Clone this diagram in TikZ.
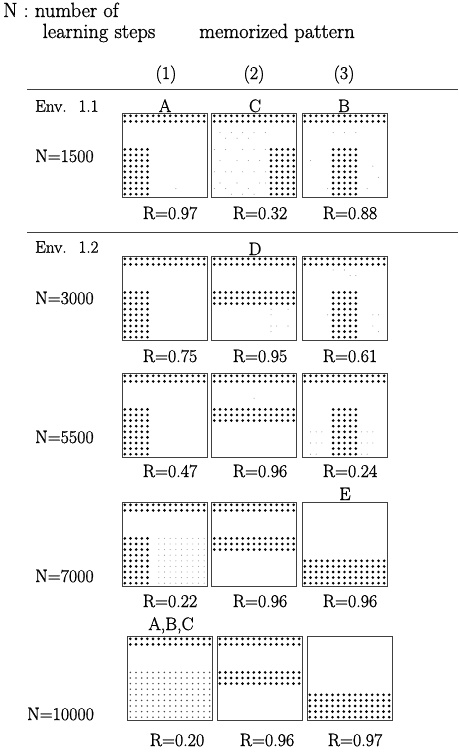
\documentclass[tikz,border=0pt]{standalone}
\usepackage{fontspec}
\setmainfont{Latin Modern Roman}[FakeBold=1.2]
\begin{document}
% dot grids: 15 x 15 cells inside each pattern box
\newcommand\dotrect[6]{%
  \begin{scope}[shift={(#1.north west)}]
    \foreach \r in {#2,...,#3}{\foreach \c in {#4,...,#5}{%
      \fill[#6] ({(\c-0.5)*5.667},{(\r-0.5)*5.6}) circle;}}
  \end{scope}}
\newcommand\specks[2]{%
  \begin{scope}[shift={(#1.north west)}]
    \foreach \c/\r in {#2}{\fill[faint] ({(\c-0.5)*5.667},{(\r-0.5)*5.6}) circle;}
  \end{scope}}
\newcommand\toprows[1]{\dotrect{#1}{1}{2}{1}{15}{big}}
\newcommand\patA[1]{\toprows{#1}\dotrect{#1}{7}{15}{1}{5}{big}}
\newcommand\patB[1]{\toprows{#1}\dotrect{#1}{7}{15}{6}{10}{big}}
\newcommand\patC[1]{\toprows{#1}\dotrect{#1}{7}{15}{11}{15}{big}}
\newcommand\patD[1]{\toprows{#1}\dotrect{#1}{7}{9}{1}{15}{big}}
\newcommand\patE[1]{\dotrect{#1}{11}{15}{1}{15}{big}}
\begin{tikzpicture}[x=1pt,y=-1pt,
  pbox/.style={draw=black!75, line width=1pt, minimum width=85pt,
    minimum height=84pt, inner sep=0pt, outer sep=0pt},
  txt/.style={inner sep=0pt, font=\fontsize{18}{20}\selectfont},
  hd/.style={inner sep=0pt, anchor=base, font=\fontsize{20.5}{23}\selectfont},
  envlbl/.style={inner sep=0pt, anchor=west, font=\fontsize{17}{19}\selectfont},
  rule/.style={draw=black!75, line width=1pt},
  big/.style={fill=black, radius=1.45pt},
  mid/.style={fill=black!70, radius=0.85pt},
  faint/.style={fill=black!40, radius=0.55pt},
]
\useasboundingbox (0,0) rectangle (458,752);

% header
\node[hd, anchor=base west] (nhead) at (3,17) {N : number of};
\node[hd] (steps) at (99,38) {learning steps};
\node[hd] (mem) at (277,38) {memorized pattern};
\node[txt, anchor=base] (c1) at (166,79) {(1)};
\node[txt, anchor=base] (c2) at (254,79) {(2)};
\node[txt, anchor=base] (c3) at (344,79) {(3)};
\coordinate (r1a) at (27,89);  \coordinate (r1b) at (458,89);
\draw[rule] (r1a) -- (r1b);

% Env. 1.1
\node[envlbl] (env11) at (35,106) {Env.\hspace{12pt}1.1};
\node[txt, anchor=base] (lA) at (165,112) {A};
\node[txt, anchor=base] (lC) at (255,112) {C};
\node[txt, anchor=base] (lB) at (344,112) {B};
\node[txt, anchor=west] (n1500) at (35,156) {N=1500};
\node[pbox] (p11) at (164.5,155) {};
\node[pbox] (p12) at (254,155) {};
\node[pbox] (p13) at (344.5,155) {};
\patA{p11} \patC{p12} \patB{p13}
\specks{p11}{10/14}
\specks{p12}{2/4,4/4,6/4,8/4,10/4,3/5,5/5,7/5,1/7,3/7,6/7,8/7,10/7,2/9,5/9,7/9,9/9,1/11,3/11,4/11,6/11,8/11,10/11,2/13,5/13,9/13,10/13,1/14,3/14,7/14,4/15,6/15,8/15}
\specks{p13}{6/4,8/4,10/4,2/9,13/10,14/12,5/14,12/14}
\node[txt] (r11) at (170,213) {R=0.97};
\node[txt] (r12) at (260,213) {R=0.32};
\node[txt] (r13) at (350,213) {R=0.88};
\coordinate (r2a) at (27,232);  \coordinate (r2b) at (458,232);
\draw[rule] (r2a) -- (r2b);

% Env. 1.2, N=3000
\node[envlbl] (env12) at (35,247) {Env.\hspace{12pt}1.2};
\node[txt, anchor=base] (lD) at (255,255) {D};
\node[txt, anchor=west] (n3000) at (35,298) {N=3000};
\node[pbox] (p21) at (164.5,298) {};
\node[pbox] (p22) at (254,298) {};
\node[pbox] (p23) at (344.5,298) {};
\patA{p21} \patD{p22} \patB{p23}
\specks{p22}{11/10,14/10,11/11,11/13,12/13,14/13,11/14}
\specks{p23}{6/3,8/3,9/4,10/4,5/11,13/11,14/11,13/13,14/14}
\node[txt] (r21) at (170,356) {R=0.75};
\node[txt] (r22) at (260,356) {R=0.95};
\node[txt] (r23) at (350,356) {R=0.61};

% N=5500
\node[txt, anchor=west] (n5500) at (35,437) {N=5500};
\node[pbox] (p31) at (164.5,415) {};
\node[pbox] (p32) at (254,415) {};
\node[pbox] (p33) at (344.5,415) {};
\patA{p31} \patD{p32} \patB{p33}
\specks{p32}{8/5}
\specks{p33}{2/11,3/11,4/11,11/11,12/11,13/11,2/13,3/13,4/13,11/13,12/13,13/13,2/15,3/15,11/15,12/15}
\node[txt] (r31) at (170,471) {R=0.47};
\node[txt] (r32) at (260,471) {R=0.96};
\node[txt] (r33) at (350,471) {R=0.24};

% N=7000
\node[txt, anchor=base] (lE) at (345,500) {E};
\node[txt, anchor=west] (n7000) at (35,576) {N=7000};
\node[pbox] (p41) at (164.5,544) {};
\node[pbox] (p42) at (254,544) {};
\node[pbox] (p43) at (344.5,544) {};
\patA{p41} \patD{p42} \patE{p43}
\dotrect{p41}{7}{15}{7}{15}{faint}
\node[txt] (r41) at (170,601) {R=0.22};
\node[txt] (r42) at (260,601) {R=0.96};
\node[txt] (r43) at (350,601) {R=0.96};

% N=10000
\node[txt, anchor=base] (lABC) at (171,630) {A,B,C};
\node[txt, anchor=west] (n10000) at (27,714) {N=10000};
\node[pbox] (p51) at (170,678) {};
\node[pbox] (p52) at (259.5,678) {};
\node[pbox] (p53) at (349.5,678) {};
\toprows{p51} \dotrect{p51}{7}{15}{1}{15}{mid}
\patD{p52} \patE{p53}
\node[txt] (r51) at (177,740) {R=0.20};
\node[txt] (r52) at (267,740) {R=0.96};
\node[txt] (r53) at (355,740) {R=0.97};
\end{tikzpicture}
\end{document}
